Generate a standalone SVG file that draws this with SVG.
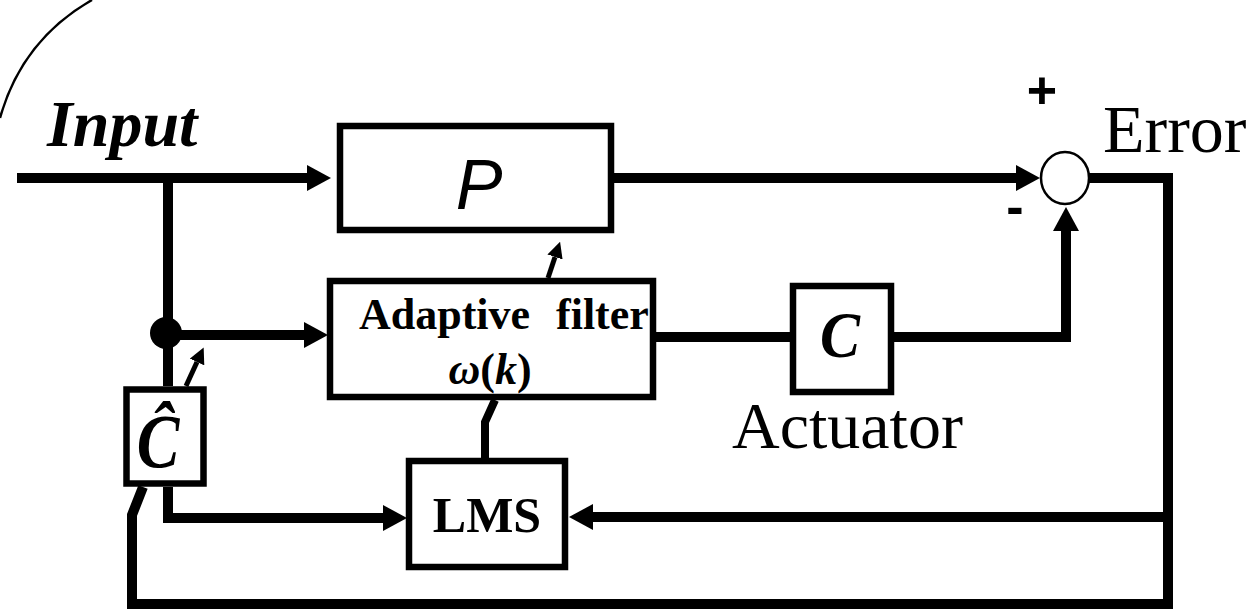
<svg xmlns="http://www.w3.org/2000/svg" width="1251" height="614" viewBox="0 0 1251 614">
<style>
.box{fill:#fff;stroke:#000;stroke-width:6.5}
.w{fill:none;stroke:#000;stroke-width:10;stroke-linejoin:miter;stroke-linecap:butt}
.wt{fill:none;stroke:#000;stroke-width:5;stroke-linecap:butt}
.serif{font-family:"Liberation Serif","Times New Roman",serif;fill:#000}
.sans{font-family:"Liberation Sans",Arial,sans-serif;fill:#000}
</style>
<defs>
<marker id="ah" markerUnits="userSpaceOnUse" viewBox="0 0 24 26" refX="0" refY="13" markerWidth="24" markerHeight="26" orient="auto"><path d="M0,0 L24,13 L0,26 z" fill="#000"/></marker>
<marker id="ahs" markerUnits="userSpaceOnUse" viewBox="0 0 16 16" refX="0" refY="8" markerWidth="16" markerHeight="16" orient="auto"><path d="M0,0 L16,8 L0,16 z" fill="#000"/></marker>
</defs>
<rect width="1251" height="614" fill="#fff"/>
<path d="M0,118 Q22,40 92,0" fill="none" stroke="#000" stroke-width="2.5"/>
<text class="serif" x="47" y="146" font-size="66" font-style="italic" font-weight="bold">Input</text>
<text class="serif" x="1103" y="152" font-size="68">Error</text>
<text class="sans" x="1042" y="108" font-size="52" font-weight="bold" text-anchor="middle">+</text>
<text class="sans" x="1015" y="224" font-size="52" font-weight="bold" text-anchor="middle">-</text>
<text class="serif" x="732" y="448" font-size="66">Actuator</text>
<g id="connectors">
<path class="w" d="M17,178 H307" marker-end="url(#ah)"/>
<path class="w" d="M168,178 V386"/>
<path class="w" d="M168,335 H304" marker-end="url(#ah)"/>
<path class="w" d="M614,178 H1016" marker-end="url(#ah)"/>
<path class="w" d="M656,337 H790"/>
<path class="w" d="M894,337 H1066 V231" marker-end="url(#ah)"/>
<path class="w" d="M1089,178 H1168 V604 H132 V515 L143,487"/>
<path class="w" d="M1168,517 H593" marker-end="url(#ah)"/>
<path class="w" d="M168,487 V518 H383" marker-end="url(#ah)"/>
<path class="w" d="M485,458 V422 L495,400" style="stroke-width:8"/>
<path class="wt" d="M186,386 L197,362" marker-end="url(#ahs)"/>
<path class="wt" d="M548,278 L555,257" marker-end="url(#ahs)"/>
</g>
<g id="node-P">
<rect class="box" x="340" y="126" width="271" height="104"/>
<text class="sans" x="479" y="209" font-size="70" font-style="italic" text-anchor="middle">P</text>
</g>
<g id="node-sum">
<ellipse cx="1065" cy="178" rx="24" ry="26" fill="#fff" stroke="#000" stroke-width="2.5"/>
</g>
<g id="node-filter">
<rect class="box" x="330" y="281" width="323" height="116"/>
<text class="serif" y="329" font-size="44" font-weight="bold"><tspan x="359">Adaptive</tspan><tspan x="556">filter</tspan></text>
<text class="serif" x="490" y="384" font-size="44" font-weight="bold" text-anchor="middle"><tspan font-style="italic">ω</tspan>(<tspan font-style="italic">k</tspan>)</text>
</g>
<g id="node-C">
<rect class="box" x="793" y="286" width="98" height="106"/>
<text class="serif" font-size="60" font-weight="bold" font-style="italic" text-anchor="middle" transform="translate(840,357) scale(1,1.1)">C</text>
</g>
<g id="node-Chat">
<rect class="box" x="126.5" y="389.5" width="77" height="94"/>
<text class="serif" font-size="64" font-weight="bold" font-style="italic" text-anchor="middle" transform="translate(158,467) scale(1,1.2)">Ĉ</text>
</g>
<g id="node-dot">
<circle cx="166" cy="333" r="16" fill="#000"/>
</g>
<g id="node-LMS">
<rect class="box" x="409" y="461" width="156" height="106"/>
<text class="serif" x="487" y="532" font-size="50" font-weight="bold" text-anchor="middle">LMS</text>
</g>
</svg>
